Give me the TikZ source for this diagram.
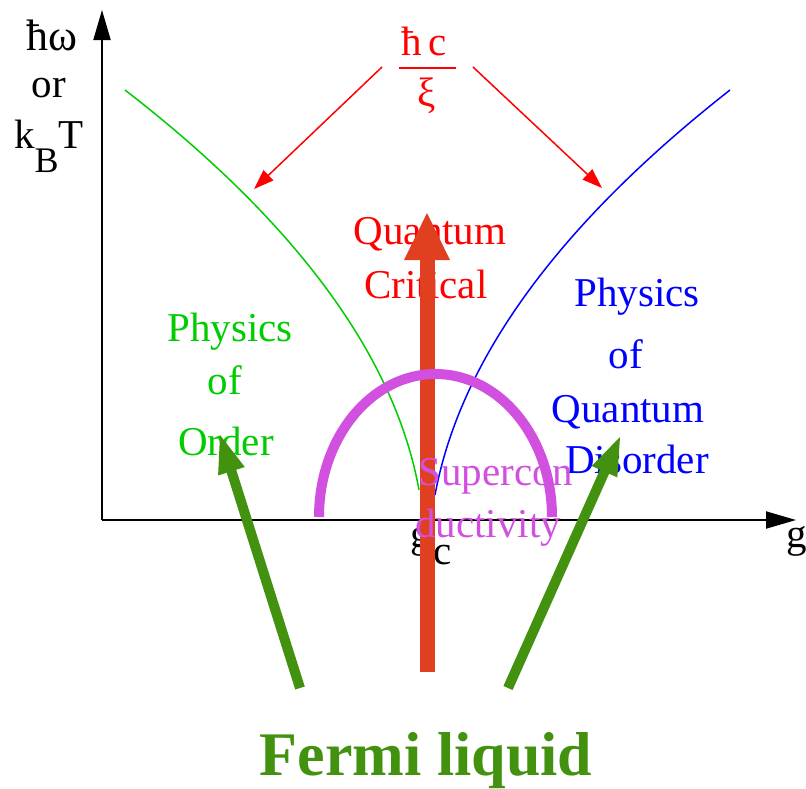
\documentclass[tikz,border=0pt]{standalone}
\usepackage{fontspec}
\setmainfont{Liberation Serif}
\usetikzlibrary{arrows.meta,calc}
\definecolor{ordergreen}{RGB}{0,204,0}
\definecolor{disblue}{RGB}{0,0,255}
\definecolor{critred}{RGB}{255,0,0}
\definecolor{qcorange}{RGB}{224,64,32}
\definecolor{scmagenta}{RGB}{210,80,224}
\definecolor{fermigreen}{RGB}{66,146,16}
\tikzset{
  lbl/.style={font=\fontsize{41}{49}\selectfont, inner sep=0pt, anchor=base},
  axis/.style={line width=2pt, -{Triangle[length=30pt,width=17pt]}},
  thinred/.style={critred, line width=1.5pt, -{Triangle[length=20pt,width=14pt]}},
  crossover/.style={line width=1.5pt},
}
\begin{document}
\begin{tikzpicture}[x=1pt,y=-1pt]
\useasboundingbox (0,0) rectangle (806,788);
% axes
\coordinate (O) at (102,520);
\coordinate (ytip) at (102,10);
\coordinate (xtip) at (796,520);
\draw[axis] (O) -- (ytip);
\draw[axis] (O) -- (xtip);
\node[lbl, font=\fontsize{44}{49}\selectfont] (hw) at (52,50) {ħω};
\node[lbl] (or) at (49,97) {or};
\node[lbl, anchor=base west] (kbt) at (14,148) {k\raisebox{-24pt}{\fontsize{36}{36}\selectfont B}T};
\node[lbl] (g) at (797,547) {g};
\node[lbl] (gc) at (421,547) {g};
\node[lbl] (gcsub) at (443,564) {c};
% crossover lines
\coordinate (gtop) at (125,90);
\coordinate (gbot) at (419,490);
\coordinate (btop) at (730,90);
\coordinate (bbot) at (435,495);
\draw[crossover, ordergreen] (gtop) .. controls (297,223) and (395,357) .. (gbot);
\draw[crossover, disblue] (btop) .. controls (558,225) and (460,360) .. (bbot);
% hbar c / xi
\node[lbl, text=critred] (hc) at (424,55) {ħ\,c};
\coordinate (fracL) at (399,68);
\coordinate (fracR) at (456,68);
\draw[critred, line width=2pt] (fracL) -- (fracR);
\node[lbl, text=critred] (xi) at (427,106) {ξ};
\coordinate (rLs) at (382,67);
\coordinate (rLe) at (254,189);
\coordinate (rRs) at (473,67);
\coordinate (rRe) at (602,188);
\draw[thinred] (rLs) -- (rLe);
\draw[thinred] (rRs) -- (rRe);
% region labels
\node[lbl, text=critred] (qc1) at (430,244) {Quantum};
\node[lbl, text=critred] (qc2) at (426,298) {Critical};
\node[lbl, text=ordergreen] (po1) at (230,341) {Physics};
\node[lbl, text=ordergreen] (po2) at (225,394) {of};
\node[lbl, text=ordergreen] (po3) at (226,455) {Order};
\node[lbl, text=disblue] (pd1) at (637,306) {Physics};
\node[lbl, text=disblue] (pd2) at (626,368) {of};
\node[lbl, text=disblue] (pd3) at (628,422) {Quantum};
\node[lbl, text=disblue] (pd4) at (637,473) {Disorder};
% orange arrow
\coordinate (oTail) at (427,672);
\coordinate (oTip) at (427,213);
\fill[qcorange] (419.5,672) rectangle (434.5,255);
\fill[qcorange] (404,260) -- (oTip) -- (450,260) -- cycle;
% superconducting dome
\draw[scmagenta, line width=10pt] (319,517) arc[start angle=180, end angle=360, x radius=116.5, y radius=143];
\node[lbl, text=scmagenta] (sc1) at (496,485) {Supercon};
\node[lbl, text=scmagenta] (sc2) at (488,537) {ductivity};
% green arrows
\coordinate (gLtail) at (300,688);
\coordinate (gLtip) at (220,435);
\coordinate (gLbase) at ($(gLtip)!38pt!(gLtail)$);
\coordinate (gLin) at ($(gLtip)!34pt!(gLtail)$);
\draw[fermigreen, line width=10pt] (gLtail) -- (gLin);
\fill[fermigreen] (gLtip) -- ($(gLbase)!14pt!90:(gLtip)$) -- ($(gLbase)!14pt!-90:(gLtip)$) -- cycle;
\coordinate (gRtail) at (508,688);
\coordinate (gRtip) at (620,437);
\coordinate (gRbase) at ($(gRtip)!38pt!(gRtail)$);
\coordinate (gRin) at ($(gRtip)!34pt!(gRtail)$);
\draw[fermigreen, line width=10pt] (gRtail) -- (gRin);
\fill[fermigreen] (gRtip) -- ($(gRbase)!14pt!90:(gRtip)$) -- ($(gRbase)!14pt!-90:(gRtip)$) -- cycle;
\node[lbl, text=fermigreen, font=\fontsize{62}{70}\selectfont\bfseries] (fl) at (426,775) {Fermi liquid};
\end{tikzpicture}
\end{document}
